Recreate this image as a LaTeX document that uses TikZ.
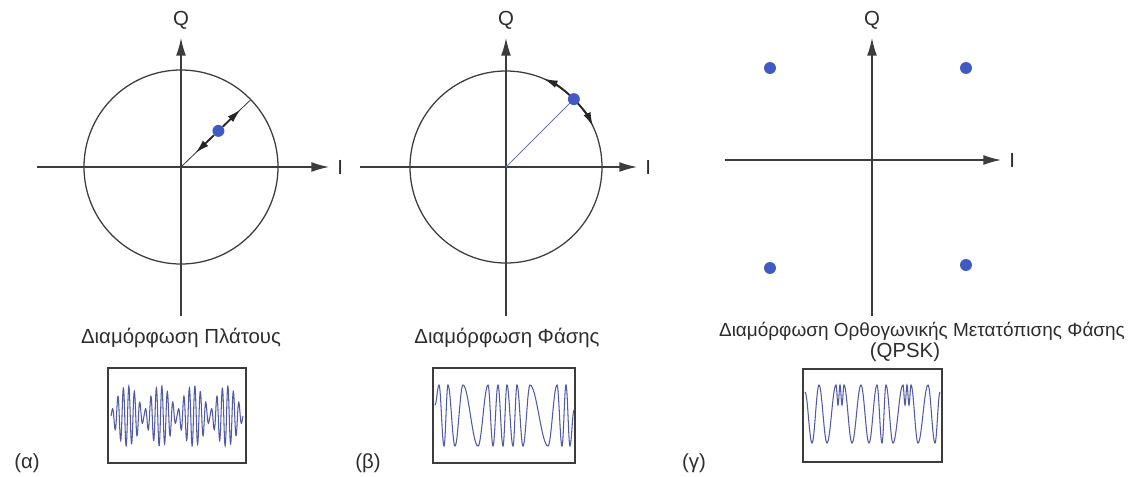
\documentclass[tikz,border=0pt]{standalone}
\usepackage{fontspec}
\setmainfont{Liberation Sans}
\usepackage{xcolor}
\usetikzlibrary{arrows.meta,positioning,calc,fit}

\definecolor{axisgray}{RGB}{60,60,60}
\definecolor{textgray}{RGB}{45,45,45}
\definecolor{waveblue}{RGB}{80,90,165}
\definecolor{dotblue}{RGB}{65,90,195}
\definecolor{rayblue}{RGB}{105,115,185}

\begin{document}
\begin{tikzpicture}[x=0.025cm,y=-0.025cm,
  lbl/.style={font=\fontsize{14.5}{17}\selectfont,text=textgray,inner sep=0pt},
  axis/.style={axisgray,line width=0.9pt,-{Latex[length=12.5pt,width=7pt]}},
  ring/.style={axisgray,line width=0.9pt},
  ray/.style={line width=0.6pt},
  pt/.style={circle,fill=dotblue,inner sep=0pt,minimum size=8.5pt},
  move/.style={black!85,line width=1.3pt,-{Latex[length=10pt,width=5.5pt]}},
  wave/.style={waveblue,line width=0.75pt},
  scope box/.style={draw=axisgray,line width=1pt,inner sep=0pt}]
\useasboundingbox (0,0) rectangle (1140,476);

% (a) amplitude
\coordinate (a-o) at (181,167);
\coordinate (a-w) at (37,167);
\coordinate (a-e) at (329,167);
\coordinate (a-s) at (181,316);
\coordinate (a-n) at (181,38);
\draw[ring] (a-o) circle[radius=97];
\draw[axis] (a-w) -- (a-e);
\draw[axis] (a-s) -- (a-n);
\node[lbl] (a-q) at (181,20) {Q};
\node[lbl,anchor=west] (a-i) at (337,167) {I};
\coordinate (a-r) at ($(a-o)+(-44:97)$);
\coordinate (a-out) at ($(a-o)+(-44:83)$);
\coordinate (a-in) at ($(a-o)+(-44:20)$);
\draw[ray,axisgray] (a-o) -- (a-r);
\node[pt] (a-p) at ($(a-o)+(-44:52)$) {};
\draw[move] (a-p) -- (a-out);
\draw[move] (a-p) -- (a-in);
\node[lbl] (a-title) at (181,338) {Διαμόρφωση Πλάτους};
\node[scope box,fit={(108,368) (246,463)}] (a-box) {};
\draw[wave] plot[domain=111:243,samples=600,smooth]
  (\x,{416-30*(0.12+0.88*abs(sin(((\x-111)/132)*720)))*sin(((\x-111)/5.5)*360)});
\node[lbl] (a-tag) at (27,463) {(α)};

% (b) phase
\coordinate (b-o) at (506,167);
\coordinate (b-w) at (360,167);
\coordinate (b-e) at (637,167);
\coordinate (b-s) at (506,316);
\coordinate (b-n) at (506,38);
\draw[ring] (b-o) circle[radius=96];
\draw[axis] (b-w) -- (b-e);
\draw[axis] (b-s) -- (b-n);
\node[lbl] (b-q) at (506,20) {Q};
\node[lbl,anchor=west] (b-i) at (645,167) {I};
\coordinate (b-r) at ($(b-o)+(-45:96)$);
\draw[ray,rayblue] (b-o) -- (b-r);
\draw[move] (b-r) arc[start angle=-45,end angle=-67,radius=96];
\draw[move] (b-r) arc[start angle=-45,end angle=-25,radius=96];
\node[pt] (b-p) at (b-r) {};
\node[lbl] (b-title) at (507,338) {Διαμόρφωση Φάσης};
\node[scope box,fit={(433,368) (575,463)}] (b-box) {};
\draw[wave] (435,405) \foreach \xa/\ya [remember=\xa as \xb (initially 435),remember=\ya as \yb (initially 405)] in
  {439/385,444/446,448/385,455/446,463/385,478/446,488/385,493/446,498/385,503/446,
   507/385,513/446,517/385,523/446,530/385,548/446,557/385,562/446,566/385,570/446,574/410}
  {cos ({(\xb+\xa)/2},{(\yb+\ya)/2}) sin (\xa,\ya)};
\node[lbl] (b-tag) at (368,463) {(β)};

% (g) qpsk
\coordinate (g-o) at (872,160);
\coordinate (g-w) at (725,160);
\coordinate (g-e) at (1001,160);
\coordinate (g-s) at (872,316);
\coordinate (g-n) at (872,38);
\draw[axis] (g-w) -- (g-e);
\draw[axis] (g-s) -- (g-n);
\node[lbl] (g-q) at (872,20) {Q};
\node[lbl,anchor=west] (g-i) at (1009,160) {I};
\node[pt] (g-p1) at (770,68) {};
\node[pt] (g-p2) at (966,68) {};
\node[pt] (g-p3) at (770,268) {};
\node[pt] (g-p4) at (966,265) {};
\node[lbl,font=\fontsize{13.5}{16}\selectfont] (g-title) at (922,331) {Διαμόρφωση Ορθογωνικής Μετατόπισης Φάσης};
\node[lbl] (g-sub) at (905,352) {(QPSK)};
\node[scope box,fit={(803,369) (942,462)}] (g-box) {};
\draw[wave] (805,392) \foreach \xa/\ya [remember=\xa as \xb (initially 805),remember=\ya as \yb (initially 392)] in
  {812/443,819/385,827/443,836/385,838/405,840/385,842/405,844/385,852/443,861/385,
   869/443,877/385,882/443,886/385,893/443,903/385,905/405,907/385,909/405,911/385,
   918/443,928/385,935/443,940/392}
  {cos ({(\xb+\xa)/2},{(\yb+\ya)/2}) sin (\xa,\ya)};
\node[lbl] (g-tag) at (694,463) {(γ)};
\end{tikzpicture}
\end{document}
